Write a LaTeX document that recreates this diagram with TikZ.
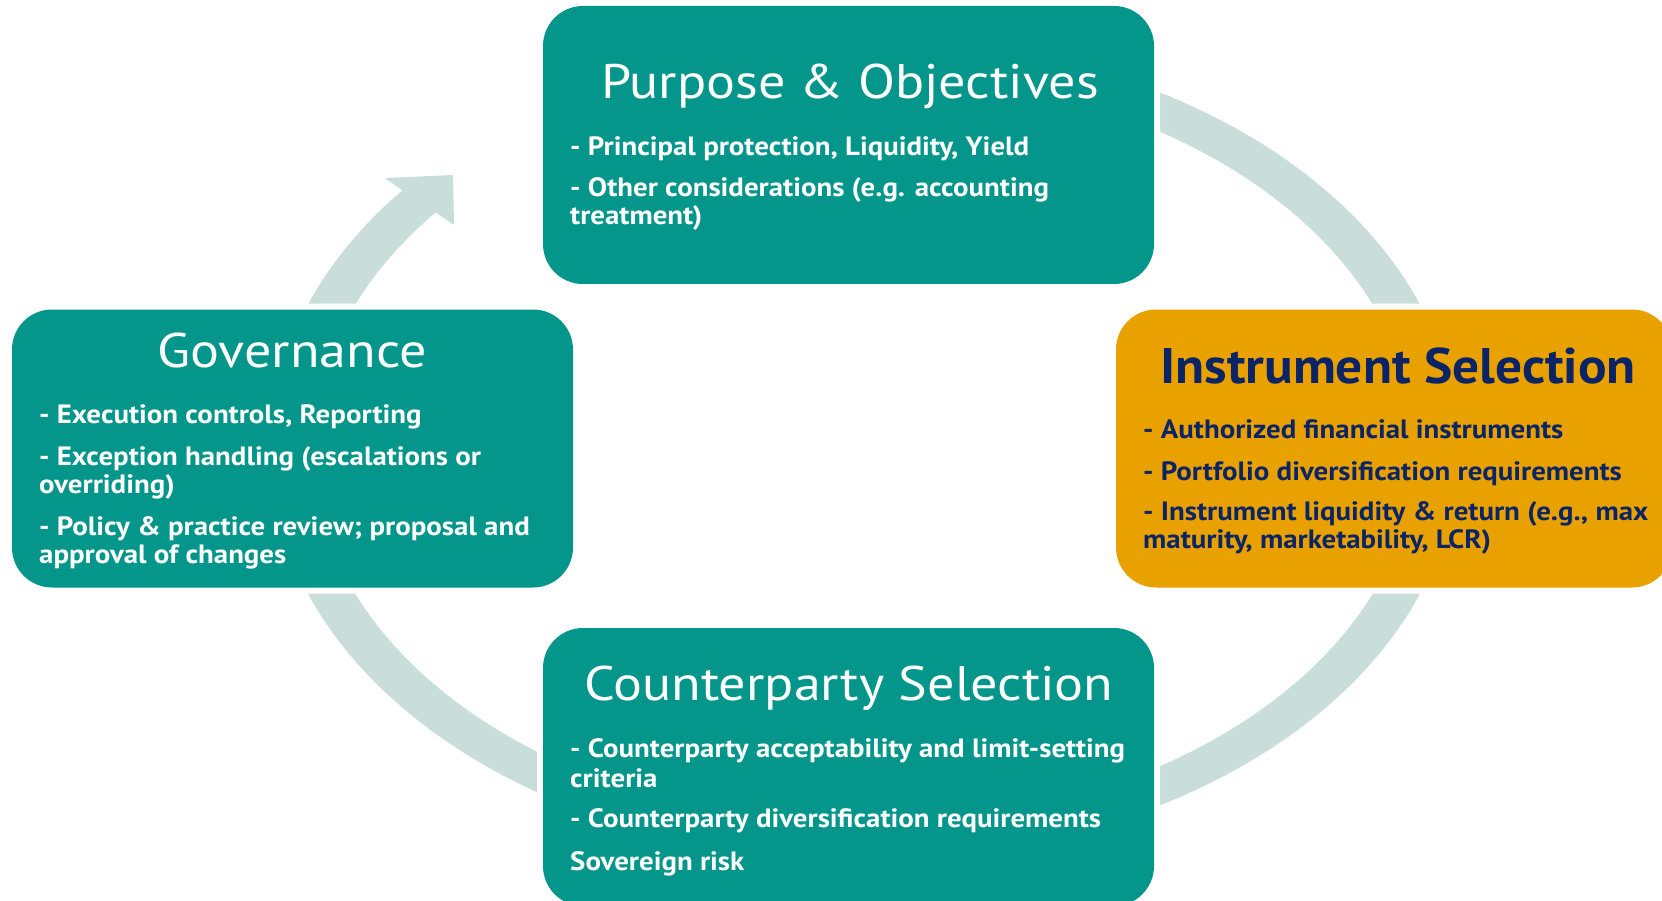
\documentclass[tikz,border=0pt]{standalone}
\usepackage{fontspec}
\setmainfont{PT Sans}
\newfontfamily\headfont{PT Sans}[FakeStretch=1.115]
\newfontfamily\boldheadfont{PT Sans}[FakeStretch=1.066]
\newfontfamily\bodyfont{PT Sans}[FakeStretch=1.09]
\definecolor{tealbox}{HTML}{04958B}
\definecolor{orangebox}{HTML}{E9A100}
\definecolor{navytext}{HTML}{0B2465}
\definecolor{ringgrey}{HTML}{C9DEDB}
\begin{document}
\begin{tikzpicture}[x=1pt,y=-1pt,
  box/.style={rectangle, rounded corners=40pt, inner sep=0pt,
    minimum width=#1, minimum height=278pt,
    preaction={draw=white, line width=12pt}},
  title/.style={anchor=base, inner sep=0pt, text=white,
    font=\headfont\fontsize{48.5}{48}\selectfont},
  body/.style={anchor=base west, inner sep=0pt, text=white,
    font=\bodyfont\bfseries\fontsize{26.5}{28}\selectfont},
  ring/.style={fill=ringgrey}]
\useasboundingbox (0,0) rectangle (1662,901);

% cycle ring behind the boxes
\begin{scope}[shift={(864,449)}]
  \fill[ring] (285:594 and 411) arc[start angle=285, end angle=540, x radius=594, y radius=411]
    -- (540:551 and 376) arc[start angle=540, end angle=285, x radius=551, y radius=376] -- cycle;
  % rising segment with its head
  \fill[ring] (170:594 and 411) arc[start angle=170, end angle=219, x radius=594, y radius=411]
    -- (-479,-271) -- (-411,-274) -- (-410,-224)
    -- (219:551 and 376) arc[start angle=219, end angle=170, x radius=551, y radius=376] -- cycle;
\end{scope}

% boxes
\node[box=611pt, fill=tealbox] (purpose) at (848.5,145) {};
\node[box=561pt, fill=tealbox] (gov) at (292.5,448.5) {};
\node[box=556pt, fill=orangebox] (instr) at (1394,448.5) {};
\node[box=611pt, fill=tealbox] (cpty) at (848.5,767) {};

% Purpose & Objectives
\node[title] (purposeT) at (850,99) {Purpose \& Objectives};
\node[body] (p1) at (570,156) {- Principal protection, Liquidity, Yield};
\node[body] (p2) at (570,197) {- Other considerations (e.g. accounting};
\node[body] (p3) at (570,225) {treatment)};

% Governance
\node[title] (govT) at (292,367) {Governance};
\node[body] (g1) at (39,423) {- Execution controls, Reporting};
\node[body] (g2) at (39,465) {- Exception handling (escalations or};
\node[body] (g3) at (39,493) {overriding)};
\node[body] (g4) at (39,535) {- Policy \& practice review; proposal and};
\node[body] (g5) at (39,563) {approval of changes};

% Instrument Selection
\node[title, text=navytext, font=\boldheadfont\bfseries\fontsize{50}{50}\selectfont] (instrT) at (1398,383) {Instrument Selection};
\node[body, text=navytext] (i1) at (1143,438) {- Authorized financial instruments};
\node[body, text=navytext] (i2) at (1143,480) {- Portfolio diversification requirements};
\node[body, text=navytext] (i3) at (1143,520) {- Instrument liquidity \& return (e.g., max};
\node[body, text=navytext] (i4) at (1143,548) {maturity, marketability, LCR)};

% Counterparty Selection
\node[title] (cptyT) at (849,700) {Counterparty Selection};
\node[body] (c1) at (570,757) {- Counterparty acceptability and limit-setting};
\node[body] (c2) at (570,787) {criteria};
\node[body] (c3) at (570,827) {- Counterparty diversification requirements};
\node[body] (c4) at (570,870) {Sovereign risk};
\end{tikzpicture}
\end{document}
